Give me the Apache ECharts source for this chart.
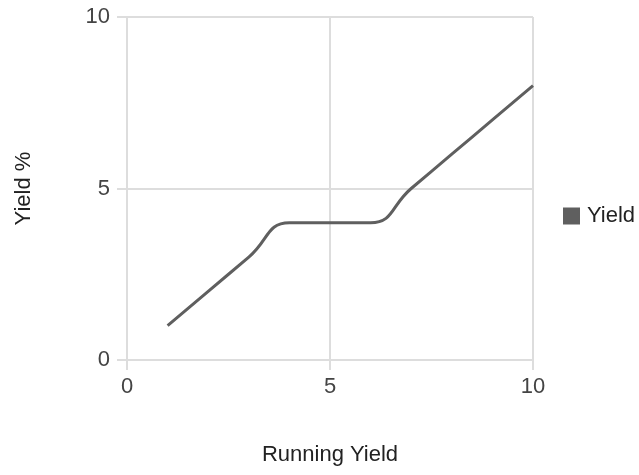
<!DOCTYPE html>
<html><head><meta charset="utf-8">
<script src="https://cdn.jsdelivr.net/npm/echarts@6/dist/echarts.min.js"></script>
<style>html,body{margin:0;padding:0;background:#fff}#c{width:639px;height:475px}</style>
</head><body><div id="c"></div>
<script>
const xValues = [1, 2, 3, 4, 5, 6, 7, 8, 9, 10];
const yValues = [1, 2, 3, 4, 4, 4, 5, 6, 7, 8];
const seriesName = 'Yield';
const xName = 'Running Yield';
const yName = 'Yield %';

const data = xValues.map((x, i) => [x, yValues[i]]);
const chart = echarts.init(document.getElementById('c'));
const font = 'Liberation Sans, Arial, sans-serif';
const gridColor = '#dddddd';
chart.setOption({
  animation: false,
  textStyle: { fontFamily: font },
  grid: { left: 127, right: 106, top: 17, bottom: 115, containLabel: false },
  legend: {
    data: [{ name: seriesName, icon: 'rect' }],
    orient: 'vertical',
    left: 563, top: 205, padding: 0,
    itemWidth: 17, itemHeight: 17, itemGap: 5,
    textStyle: { fontSize: 22, color: '#222', fontFamily: font, padding: [0, 0, 0, 2] }
  },
  xAxis: {
    type: 'value', min: 0, max: 10, interval: 5,
    name: xName, nameLocation: 'middle', nameGap: 84,
    nameTextStyle: { fontSize: 22, color: '#222', fontFamily: font },
    axisLine: { show: true, lineStyle: { color: gridColor, width: 2 } },
    axisTick: { show: true, length: 10, lineStyle: { color: gridColor, width: 2 } },
    axisLabel: { fontSize: 22, color: '#444', margin: 16, fontFamily: font },
    splitLine: { show: true, lineStyle: { color: gridColor, width: 2 } }
  },
  yAxis: {
    type: 'value', min: 0, max: 10, interval: 5,
    name: yName, nameLocation: 'middle', nameGap: 92, nameRotate: 90,
    nameTextStyle: { fontSize: 22, color: '#222', fontFamily: font },
    axisLine: { show: true, lineStyle: { color: gridColor, width: 2 } },
    axisTick: { show: true, length: 10, lineStyle: { color: gridColor, width: 2 } },
    axisLabel: { fontSize: 22, color: '#444', margin: 17, fontFamily: font },
    splitLine: { show: true, lineStyle: { color: gridColor, width: 2 } }
  },
  series: [{
    name: seriesName, type: 'line', data: data,
    smooth: 0.5,
    showSymbol: false, symbol: 'none',
    lineStyle: { color: '#5f5f5f', width: 3 },
    itemStyle: { color: '#5f5f5f' }
  }]
});
</script></body></html>
